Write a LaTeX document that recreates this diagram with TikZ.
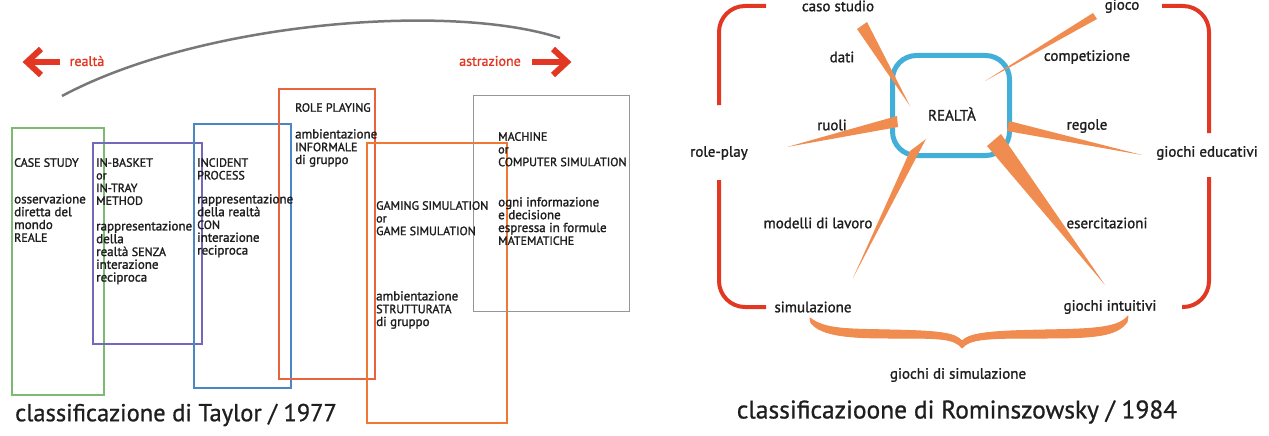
\documentclass[tikz,border=0pt]{standalone}
\usepackage{fontspec}
\setmainfont{PT Sans}
\newfontfamily\boxf[FakeBold=1.6]{PT Sans}
\newfontfamily\lowf[FakeBold=1.6]{PT Sans}
\newfontfamily\lblf[FakeBold=1.3]{PT Sans}
\newfontfamily\ttlf[FakeBold=0.8]{PT Sans}
\newcommand\UC[1]{{\boxf\fontsize{12}{12.8}\selectfont #1}}
\definecolor{cgreen}{RGB}{125,185,115}
\definecolor{cpurple}{RGB}{115,105,185}
\definecolor{cblue}{RGB}{75,135,195}
\definecolor{crole}{RGB}{232,100,60}
\definecolor{cgame}{RGB}{240,120,50}
\definecolor{cgray}{RGB}{150,150,150}
\definecolor{cred}{RGB}{225,55,35}
\definecolor{corange}{RGB}{240,140,80}
\definecolor{ccyan}{RGB}{65,175,215}
\definecolor{ctext}{RGB}{30,30,30}
\definecolor{carc}{RGB}{120,120,120}
\tikzset{
  tbox/.style={draw, inner sep=0pt, anchor=north west},
  capstxt/.style={anchor=north west, align=left, inner sep=0pt, text=ctext,
    font=\boxf\fontsize{12}{12.7}\selectfont},
  lowtxt/.style={anchor=north west, align=left, inner sep=0pt, text=ctext,
    font=\lowf\fontsize{13}{12.8}\selectfont},
  lbl/.style={inner sep=0pt, text=ctext, font=\lblf\fontsize{15}{17}\selectfont},
  ttl/.style={inner sep=0pt, text=ctext},
  redtxt/.style={text=cred, inner sep=0pt, font=\lblf\fontsize{14}{16}\selectfont},
  wedge/.style={fill=corange},
  bracket/.style={draw=cred, line width=4pt, rounded corners=26pt},
  redarrow/.style={draw=cred, line width=6pt},
}
\begin{document}
\begin{tikzpicture}[x=1pt,y=-1pt]
\useasboundingbox (0,0) rectangle (1269,436);
% ---------------- left diagram ----------------
\draw[carc, line width=2.5pt] (62,96) .. controls (200,22) and (450,2) .. (560,38);
\coordinate (la1) at (60,62); \coordinate (la2) at (28,62);
\draw[redarrow] (la1) -- (la2);
\draw[redarrow, line join=miter] (41,49) -- (27,62) -- (41,75);
\node[redtxt] (realta) at (87,61) {realtà};
\node[redtxt] (astr) at (490,61) {astrazione};
\coordinate (ra1) at (532,62); \coordinate (ra2) at (563,62);
\draw[redarrow] (ra1) -- (ra2);
\draw[redarrow, line join=miter] (553,49) -- (567,62) -- (553,75);

\node[tbox, draw=cgreen, line width=1.8pt, minimum width=92, minimum height=267] (bcs) at (11,127) {};
\node[tbox, draw=cpurple, line width=1.8pt, minimum width=109, minimum height=201] (bib) at (92,142) {};
\node[tbox, draw=cblue, line width=2.4pt, minimum width=97, minimum height=264] (bip) at (193,123) {};
\node[tbox, draw=crole, line width=1.8pt, minimum width=96, minimum height=290] (brp) at (278,88) {};
\node[tbox, draw=cgame, line width=2.4pt, minimum width=140, minimum height=280] (bgs) at (366,142) {};
\node[tbox, draw=cgray, line width=1.4pt, minimum width=156, minimum height=216] (bmc) at (473,95) {};

\node[capstxt] (cs1) at (14,158) {CASE STUDY};
\node[lowtxt] (cs2) at (14,194) {osservazione\\diretta del\\mondo\\\UC{REALE}};
\node[capstxt] (ib1) at (96,158) {IN-BASKET\\or\\IN-TRAY\\METHOD};
\node[lowtxt] (ib2) at (96,221) {rappresentazione\\della\\realtà \UC{SENZA}\\interazione\\reciproca};
\node[capstxt] (ip1) at (197,158) {INCIDENT\\PROCESS};
\node[lowtxt] (ip2) at (197,194) {rappresentazione\\della realtà\\\UC{CON}\\interazione\\reciproca};
\node[capstxt] (rp1) at (295,103) {ROLE PLAYING};
\node[lowtxt] (rp2) at (295,129) {ambientazione\\\UC{INFORMALE}\\di gruppo};
\node[capstxt] (gs1) at (376,201) {GAMING SIMULATION\\or\\GAME SIMULATION};
\node[lowtxt] (gs2) at (376,291) {ambientazione\\\UC{STRUTTURATA}\\di gruppo};
\node[capstxt] (mc1) at (498,132) {MACHINE\\or\\COMPUTER SIMULATION};
\node[lowtxt] (mc2) at (498,197) {ogni informazione\\e decisione\\espressa in formule\\\UC{MATEMATICHE}};

\node[ttl, anchor=west, font=\ttlf\fontsize{24.5}{28}\selectfont] (t1) at (15,415) {classificazione di Taylor / 1977};

% ---------------- right diagram ----------------
\draw[bracket] (766,6) -| (719,105);
\draw[bracket] (719,180) |- (766,307);
\draw[bracket] (1162,6) -| (1209,133);
\draw[bracket] (1209,177) |- (1182,307);

\node[draw=ccyan, line width=5pt, rounded corners=24pt, minimum width=117, minimum height=100, inner sep=0pt] (box) at (951,105.5) {};
\node[lbl] (realtaR) at (952,114) {REALTÀ};

\fill[wedge] (867,22) -- (857,29) -- (910,106) -- cycle;
\fill[wedge] (897,116) -- (898,127) -- (787,147) -- cycle;
\fill[wedge] (1093,13) -- (1097,19) -- (985,81) -- cycle;
\fill[wedge] (1009,121) -- (1007,131) -- (1142,155) -- cycle;
\fill[wedge] (910,151) -- (926,139) -- (853,278) -- cycle;
\fill[wedge] (987,146) -- (1001,134) -- (1105,285) -- cycle;

\node[lbl] (caso) at (838,6) {caso studio};
\node[lbl] (gioco) at (1122,6) {gioco};
\node[lbl] (dati) at (842,57) {dati};
\node[lbl] (comp) at (1087,57) {competizione};
\node[lbl] (ruoli) at (832,125) {ruoli};
\node[lbl] (regole) at (1087,126) {regole};
\node[lbl] (rplay) at (719,153) {role-play};
\node[lbl] (gedu) at (1207,153) {giochi educativi};
\node[lbl] (mod) at (818,223) {modelli di lavoro};
\node[lbl] (eser) at (1107,223) {esercitazioni};
\node[lbl] (sim) at (813,307) {simulazione};
\node[lbl] (gint) at (1110,307) {giochi intuitivi};
\node[lbl] (gsim) at (958,375) {giochi di simulazione};

\fill[corange, draw=corange, line width=1pt, line join=round]
  (810,318) .. controls (825,330) and (850,329) .. (890,330)
  .. controls (940,331) and (955,333) .. (962,341)
  .. controls (970,333) and (990,331) .. (1045,330)
  .. controls (1095,329) and (1118,328) .. (1128,316)
  -- (1127,322)
  .. controls (1117,336) and (1095,338) .. (1045,338)
  .. controls (990,338) and (970,338) .. (962,348)
  .. controls (954,338) and (940,338) .. (890,338)
  .. controls (850,338) and (822,336) .. (811,323) -- cycle;

\node[ttl, font=\ttlf\fontsize{25.5}{29}\selectfont] (t2) at (957,412) {classificazioone di Rominszowsky / 1984};
\end{tikzpicture}
\end{document}
